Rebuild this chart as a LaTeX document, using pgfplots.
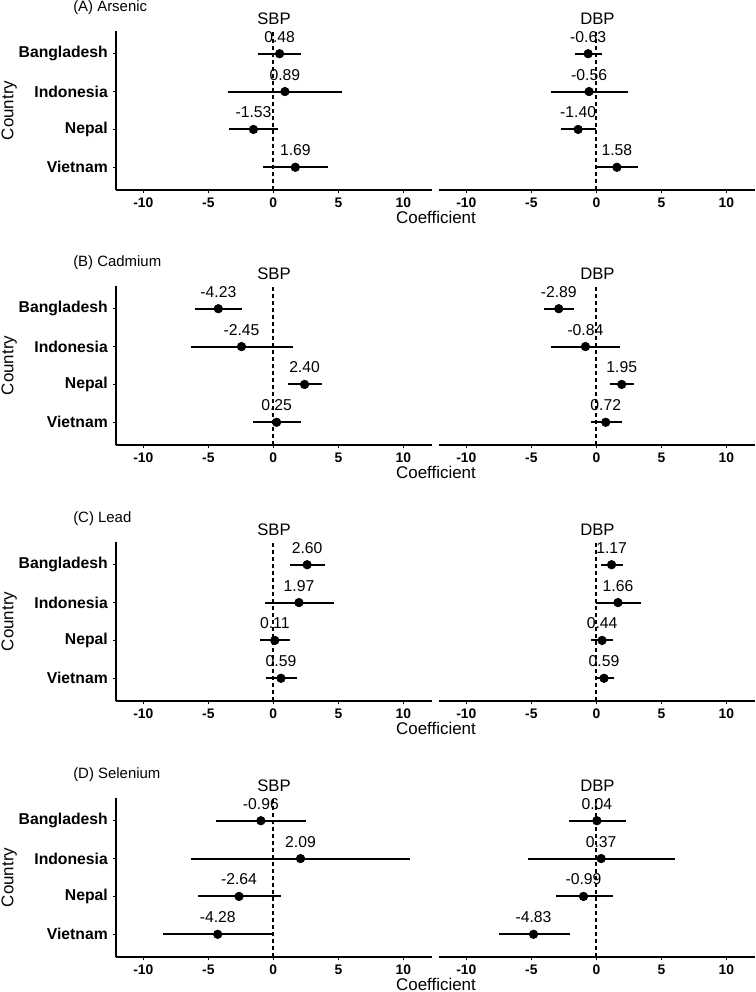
\documentclass[border=0pt]{standalone}
\usepackage{pgfplots}
\usepackage{pgfplotstable}
\pgfplotsset{compat=1.18}
\usepackage{fontspec}
\setmainfont{Liberation Sans}

% columns: y (4=Bangladesh ... 1=Vietnam), x = estimate, lo/hi = 95% CI, label
\pgfplotstableread{
y x lo hi label
4 0.48 -1.15 2.15 0.48
3 0.89 -3.45 5.25 0.89
2 -1.53 -3.38 0.33 -1.53
1 1.69 -0.80 4.20 1.69
}\ASBP
\pgfplotstableread{
y x lo hi label
4 -0.63 -1.63 0.45 -0.63
3 -0.56 -3.50 2.40 -0.56
2 -1.40 -2.70 -0.05 -1.40
1 1.58 -0.02 3.22 1.58
}\ADBP
\pgfplotstableread{
y x lo hi label
4 -4.23 -6.05 -2.40 -4.23
3 -2.45 -6.35 1.50 -2.45
2 2.40 1.12 3.72 2.40
1 0.25 -1.58 2.12 0.25
}\BSBP
\pgfplotstableread{
y x lo hi label
4 -2.89 -4.03 -1.70 -2.89
3 -0.84 -3.45 1.84 -0.84
2 1.95 1.07 2.86 1.95
1 0.72 -0.45 1.98 0.72
}\BDBP
\pgfplotstableread{
y x lo hi label
4 2.60 1.30 3.95 2.60
3 1.97 -0.66 4.63 1.97
2 0.11 -1.06 1.30 0.11
1 0.59 -0.60 1.78 0.59
}\CSBP
\pgfplotstableread{
y x lo hi label
4 1.17 0.32 2.04 1.17
3 1.66 -0.05 3.45 1.66
2 0.44 -0.38 1.27 0.44
1 0.59 -0.13 1.38 0.59
}\CDBP
\pgfplotstableread{
y x lo hi label
4 -0.96 -4.40 2.48 -0.96
3 2.09 -6.33 10.50 2.09
2 -2.64 -5.82 0.56 -2.64
1 -4.28 -8.45 -0.02 -4.28
}\DSBP
\pgfplotstableread{
y x lo hi label
4 0.04 -2.10 2.25 0.04
3 0.37 -5.23 6.05 0.37
2 -0.99 -3.12 1.25 -0.99
1 -4.83 -7.52 -2.05 -4.83
}\DDBP

\pgfplotsset{
  forest/.style={
    scale only axis, width=237pt, height=119.25pt,
    anchor=north west,
    xmin=-12.1, xmax=12.2, ymin=0.4, ymax=4.6,
    axis x line*=bottom,
    axis line style={line width=1.1pt, black, -},
    xtick={-10,-5,0,5,10},
    xticklabels={-10,-5,0,5,10},
    xticklabel style={font=\bfseries\fontsize{10.4}{12}\selectfont, black},
    tick style={black, line width=1.1pt},
    tick align=outside, major tick length=2.6pt,
    clip=false,
  },
  leftp/.style={forest,
    axis y line*=left,
    ytick={1,2,3,4},
    yticklabels={Vietnam,Nepal,Indonesia,Bangladesh},
    yticklabel style={font=\bfseries\fontsize{11.8}{13}\selectfont, black},
  },
  rightp/.style={forest,
    axis y line=none,
    ytick=\empty,
  },
}

\newcommand{\series}[1]{%
  \addplot[black, line width=1.3pt, dash pattern=on 3pt off 2.25pt, forget plot] coordinates {(0,0.4) (0,4.6)};
  \addplot[black, line width=1.5pt, only marks, mark=*, mark size=3.2pt,
    mark options={line width=0.5pt},
    error bars/.cd, x dir=both, x explicit, error mark=none,
      error bar style={line width=1.5pt, black, solid}]
    table[x=x, y=y,
      x error plus expr=\thisrow{hi}-\thisrow{x},
      x error minus expr=\thisrow{x}-\thisrow{lo}]{#1};
  \addplot[black, only marks, mark=none, point meta=explicit symbolic,
    nodes near coords, nodes near coords align={center},
    every node near coord/.append style={anchor=base, inner sep=0pt, yshift=8.6pt,
      font=\fontsize{11.8}{13}\selectfont, black}]
    table[x=x, y=y, meta=label]{#1};
}

\newcommand{\panel}[4]{%
  % #1 top (pt, negative), #2 title, #3 SBP table, #4 DBP table
  \begin{axis}[leftp, at={(87pt,#1)}]
    \series{#3}
  \end{axis}
  \begin{axis}[rightp, at={(329.25pt,#1)}]
    \series{#4}
  \end{axis}
  \node[anchor=west, inner sep=0pt, font=\fontsize{11.2}{13}\selectfont] at (54.75pt,#1+17.6pt) {#2};
  \node[font=\fontsize{12.5}{14}\selectfont] at (205.5pt,#1+9.3pt) {SBP};
  \node[font=\fontsize{12.5}{14}\selectfont] at (448.1pt,#1+9.3pt) {DBP};
  \node[rotate=90, font=\fontsize{12.7}{14}\selectfont] at (6.9pt,#1-59.6pt) {Country};
  \node[font=\fontsize{12.7}{14}\selectfont] at (327pt,#1-139.5pt) {Coefficient};
}

\begin{document}
\begin{tikzpicture}
\path[use as bounding box] (0,0) rectangle (567pt,-744pt);
\panel{-23.25pt}{(A) Arsenic}{\ASBP}{\ADBP}
\panel{-214.5pt}{(B) Cadmium}{\BSBP}{\BDBP}
\panel{-406.5pt}{(C) Lead}{\CSBP}{\CDBP}
\panel{-598.5pt}{(D) Selenium}{\DSBP}{\DDBP}
\end{tikzpicture}
\end{document}
